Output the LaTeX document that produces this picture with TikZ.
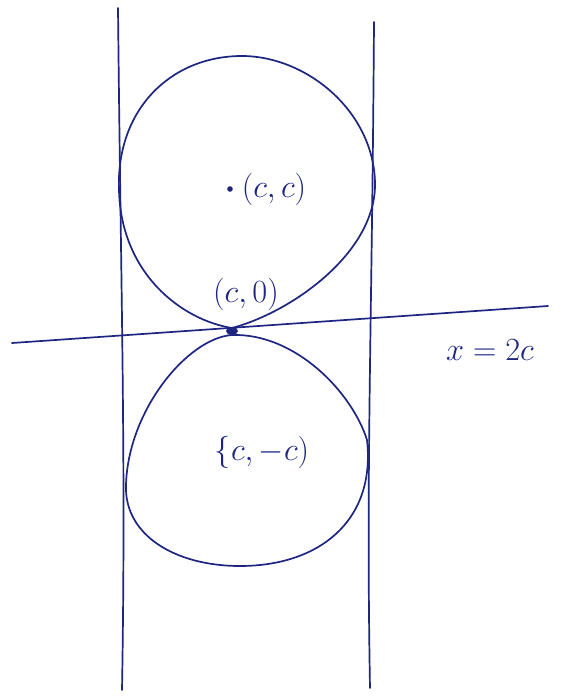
\documentclass[tikz,border=0pt]{standalone}
\usepackage{fontspec}
\begin{document}
\begin{tikzpicture}[x=1pt,y=-1pt,
  ink/.style={draw=inkblue, line width=1.7pt, line cap=round, line join=round},
  lbl/.style={text=inkblue, font=\fontsize{24}{28}\selectfont, inner sep=0pt}]
\definecolor{inkblue}{RGB}{30,38,130}
\useasboundingbox[fill=white] (0,0) rectangle (572,697);
% vertical lines
\coordinate (L1) at (118,8);
\coordinate (L2) at (122,690);
\coordinate (R1) at (374,22);
\coordinate (R2) at (370,688);
\draw[ink] (L1) .. controls (121,300) and (126,460) .. (L2);
\draw[ink] (R1) .. controls (372,330) and (366,460) .. (R2);
% horizontal line
\coordinate (H1) at (12,343);
\coordinate (H2) at (548,306);
\draw[ink] (H1) -- (H2);
% upper circle
\coordinate (B) at (232,328);
\coordinate (UL) at (119,190);
\coordinate (UT) at (240,56);
\coordinate (UR) at (375,182);
\draw[ink] (B) .. controls (182,320) and (121,274) .. (UL)
  .. controls (116,110) and (170,57) .. (UT)
  .. controls (305,55) and (373,110) .. (UR)
  .. controls (377,252) and (292,312) .. (B);
% lower circle
\coordinate (B2) at (232,335);
\coordinate (LR) at (367,440);
\coordinate (LB) at (240,566);
\coordinate (LL) at (126,485);
\draw[ink] (B2) .. controls (295,333) and (352,392) .. (LR)
  .. controls (376,522) and (318,566) .. (LB)
  .. controls (175,566) and (124,535) .. (LL)
  .. controls (128,410) and (188,338) .. (B2);
% touching point
\fill[inkblue] (232,331) ellipse (6 and 4);
% labels
\fill[inkblue] (230,189) circle (2.8);
\node[lbl] (cc) at (274,189) {\scalebox{1.3}{$(c,c)$}};
\node[lbl] (c0) at (246,294) {\scalebox{1.3}{$(c,0)$}};
\node[lbl] (cmc) at (262,452) {\scalebox{1.3}{$\{c,-c)$}};
\node[lbl] (x2c) at (490,350) {\scalebox{1.3}{$x=2c$}};
\end{tikzpicture}
\end{document}
